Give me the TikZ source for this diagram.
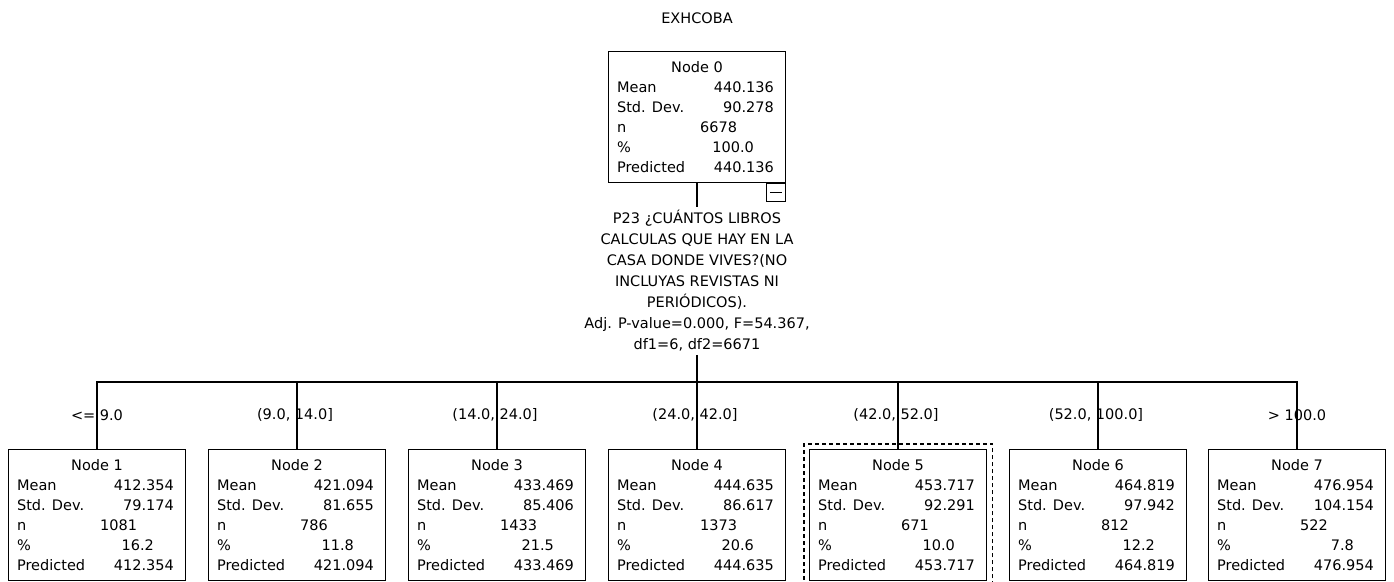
\documentclass[tikz,border=0pt]{standalone}
\usepackage{fontspec}
\setmainfont{DejaVu Sans}
\usetikzlibrary{calc,fit}
\tikzset{
  statbox/.style = {draw,line width=1.2pt,anchor=north,minimum width=177pt,minimum height=131pt,inner sep=0pt},
  selbox/.style  = {draw,line width=1.2pt,dash pattern=on 4pt off 3pt,inner sep=5pt},
  foldbox/.style = {draw,line width=1.2pt,anchor=north east,minimum width=19pt,minimum height=18pt,inner sep=0pt},
  rowlbl/.style  = {anchor=base west,inner sep=0pt},
  rowval/.style  = {anchor=base east,inner sep=0pt},
  rowttl/.style  = {anchor=base,inner sep=0pt},
  branch/.style  = {line width=1.2pt},
  edgelbl/.style = {inner sep=0pt}
}
% box with the node statistics: name, x, top, number, mean, sd, n, percent
\newcommand{\statnode}[8]{%
  \node[statbox] (#1) at (#2,#3) {};
  \node[rowttl] (#1-t)  at ($(#1.north)+(0,21)$)          {Node #4};
  \node[rowlbl] (#1-l1) at ($(#1.north west)+(9,41)$)     {Mean};
  \node[rowval] (#1-v1) at ($(#1.north east)+(-12,41)$)   {#5};
  \node[rowlbl] (#1-l2) at ($(#1.north west)+(9,61)$)     {Std. Dev.};
  \node[rowval] (#1-v2) at ($(#1.north east)+(-12,61)$)   {#6};
  \node[rowlbl] (#1-l3) at ($(#1.north west)+(9,81)$)     {n};
  \node[rowlbl] (#1-v3) at ($(#1.north west)+(92,81)$)    {#7};
  \node[rowlbl] (#1-l4) at ($(#1.north west)+(9,101)$)    {\%};
  \node[rowval] (#1-v4) at ($(#1.north east)+(-32,101)$)  {#8};
  \node[rowlbl] (#1-l5) at ($(#1.north west)+(9,121)$)    {Predicted};
  \node[rowval] (#1-v5) at ($(#1.north east)+(-12,121)$)  {#5};
}

\begin{document}
\begin{tikzpicture}[x=1pt,y=-1pt,font=\fontsize{14.5}{21}\selectfont]
  \useasboundingbox (0,0) rectangle (1394,581);
  \node[inner sep=0pt] (title) at (697,18) {EXHCOBA};

  \statnode{n0}{697}{51}{0}{440.136}{90.278}{6678}{100.0}
  \node[foldbox] (fold) at (n0.south east) {};
  \draw[line width=1.2pt] ($(fold.west)+(4,0)$) -- ($(fold.east)+(-4,0)$);

  \node[align=center,inner sep=3pt] (split) at (697,281)
    {P23 ¿CUÁNTOS LIBROS\\CALCULAS QUE HAY EN LA\\CASA DONDE VIVES?(NO\\INCLUYAS REVISTAS NI\\PERIÓDICOS).\\Adj. P-value=0.000, F=54.367,\\df1=6, df2=6671};
  \coordinate (bus) at (697,382);
  \draw[branch] (n0.south) -- (split.north);
  \draw[branch] (split.south) -- (bus);

  \statnode{n1}{97}{449}{1}{412.354}{79.174}{1081}{16.2}
  \statnode{n2}{297}{449}{2}{421.094}{81.655}{786}{11.8}
  \statnode{n3}{497}{449}{3}{433.469}{85.406}{1433}{21.5}
  \statnode{n4}{697}{449}{4}{444.635}{86.617}{1373}{20.6}
  \statnode{n5}{898}{449}{5}{453.717}{92.291}{671}{10.0}
  \statnode{n6}{1098}{449}{6}{464.819}{97.942}{812}{12.2}
  \statnode{n7}{1297}{449}{7}{476.954}{104.154}{522}{7.8}
  \node[selbox,fit=(n5)] (sel) {};

  \foreach \k in {1,...,7}
    \draw[branch] (n\k.north) |- (bus);

  \node[edgelbl] (e1) at (97,415)   {<= 9.0};
  \node[edgelbl] (e2) at (295,415)  {(9.0, 14.0]};
  \node[edgelbl] (e3) at (495,415)  {(14.0, 24.0]};
  \node[edgelbl] (e4) at (695,415)  {(24.0, 42.0]};
  \node[edgelbl] (e5) at (896,415)  {(42.0, 52.0]};
  \node[edgelbl] (e6) at (1096,415) {(52.0, 100.0]};
  \node[edgelbl] (e7) at (1297,415) {> 100.0};
\end{tikzpicture}
\end{document}
